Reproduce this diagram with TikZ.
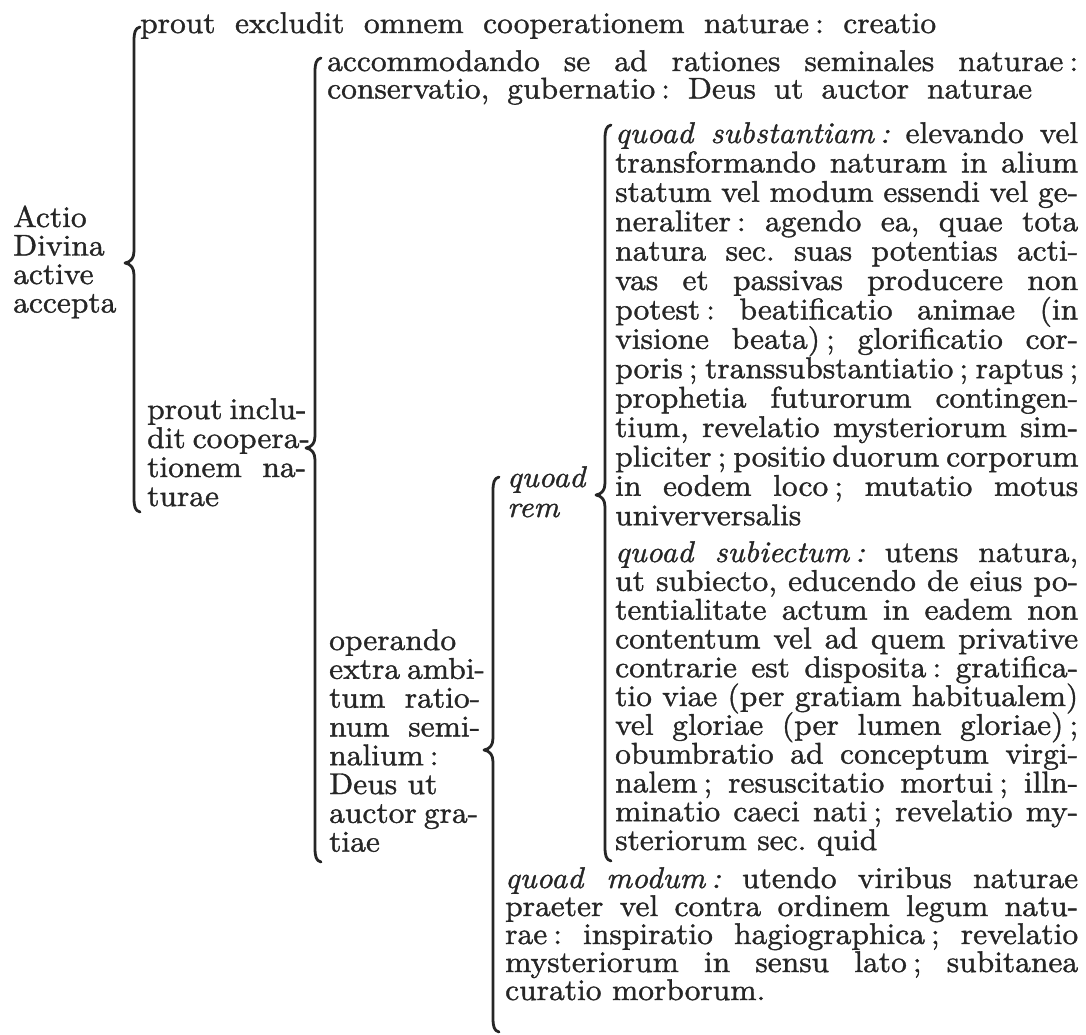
\documentclass[tikz,border=0pt]{standalone}
\usepackage{fontspec}
\setmainfont{lmroman10-regular}[Extension=.otf, ItalicFont=lmroman10-italic, FakeStretch=1.05, FakeBold=1.2]
\frenchspacing
\definecolor{ink}{RGB}{38,38,38}
\newcommand\blk[2]{\vtop{\fontsize{30}{#1}\selectfont\lineskiplimit=-\maxdimen #2}}
\newcommand\J[2]{\hbox to #1pt{#2}}
\newcommand\N[1]{\hbox{#1}}
\newcommand\cl{\kern0.2em:}
\newcommand\scl{\kern0.2em;}
\newcommand\mybr[4]{%
  \draw[brc] (#1+6,#2) .. controls (#1+1,#2+1) and (#1,#2+6) .. (#1,#2+14)
    -- (#1,#4-12) .. controls (#1,#4-5) and (#1-3,#4-1) .. (#1-9,#4)
    .. controls (#1-3,#4+1) and (#1,#4+5) .. (#1,#4+12)
    -- (#1,#3-14) .. controls (#1,#3-6) and (#1+1,#3-1) .. (#1+6,#3);}
\begin{document}
\begin{tikzpicture}[x=1pt,y=-1pt,
  txt/.style={anchor=base west, inner sep=0pt, text=ink},
  brc/.style={draw=ink, line width=2.8pt, line cap=round, line join=round}]
\fill[white] (0,0) rectangle (1086,1034);
\useasboundingbox (0,0) rectangle (1086,1034);

% left label
\node[txt] (actio) at (13,227) {\blk{28.5}{\N{Actio}\N{Divina}\N{active}\N{accepta}}};

% level 1
\node[txt] (excl) at (140,33) {\blk{29}{\J{796}{prout excludit omnem cooperationem naturae\cl{} creatio}}};
\node[txt] (incl) at (147,419) {\blk{29}{\J{159}{prout inclu-}\J{159}{dit coopera-}\J{159}{tionem na-}\N{turae}}};

% level 2
\node[txt] (accom) at (327,71) {\blk{27.5}{\J{751}{accommodando se ad rationes seminales naturae\cl}\J{705}{conservatio, gubernatio\cl{} Deus ut auctor naturae}}};
\node[txt] (oper) at (329,650) {\blk{28.8}{\N{operando}\J{151}{extra ambi-}\J{151}{tum ratio-}\J{151}{num semi-}\N{nalium\cl}\N{Deus ut}\J{149}{auctor gra-}\N{tiae}}};

% level 3
\node[txt] (rem) at (507,487) {\blk{30}{\N{\itshape quoad}\N{\itshape rem}}};
\node[txt] (modum) at (505,888) {\blk{28}{%
\J{573}{\textit{quoad modum\cl} utendo viribus naturae}%
\J{573}{praeter vel contra ordinem legum natu-}%
\J{573}{rae\cl{} inspiratio hagiographica\scl{} revelatio}%
\J{573}{mysteriorum in sensu lato\scl{} subitanea}%
\N{curatio morborum.}}};

% level 4
\node[txt] (subst) at (615,143) {\blk{29.4}{%
\J{463}{\textit{quoad substantiam\cl} elevando vel}%
\J{463}{transformando naturam in alium}%
\J{463}{statum vel modum essendi vel ge-}%
\J{463}{neraliter\cl{} agendo ea, quae tota}%
\J{463}{natura sec. suas potentias acti-}%
\J{463}{vas et passivas producere non}%
\J{463}{potest\cl{} beatificatio animae (in}%
\J{463}{visione beata)\scl{} glorificatio cor-}%
\J{463}{poris\scl{} transsubstantiatio\scl{} raptus\scl}%
\J{463}{prophetia futurorum contingen-}%
\J{463}{tium, revelatio mysteriorum sim-}%
\J{463}{pliciter\scl{} positio duorum corporum}%
\J{463}{in eodem loco\scl{} mutatio motus}%
\N{univerversalis}}};
\node[txt] (subj) at (615,562) {\blk{28.8}{%
\J{463}{\textit{quoad subiectum\cl} utens natura,}%
\J{463}{ut subiecto, educendo de eius po-}%
\J{463}{tentialitate actum in eadem non}%
\J{463}{contentum vel ad quem privative}%
\J{463}{contrarie est disposita\cl{} gratifica-}%
\J{463}{tio viae (per gratiam habitualem)}%
\J{463}{vel gloriae (per lumen gloriae)\scl}%
\J{463}{obumbratio ad conceptum virgi-}%
\J{463}{nalem\scl{} resuscitatio mortui\scl{} illn-}%
\J{463}{minatio caeci nati\scl{} revelatio my-}%
\N{steriorum sec. quid}}};

% braces: x, top, bottom, cusp
\mybr{134}{27}{512}{263}
\mybr{315}{58}{862}{448}
\mybr{493}{477}{1032}{750}
\mybr{605}{125}{861}{495}
\end{tikzpicture}
\end{document}
